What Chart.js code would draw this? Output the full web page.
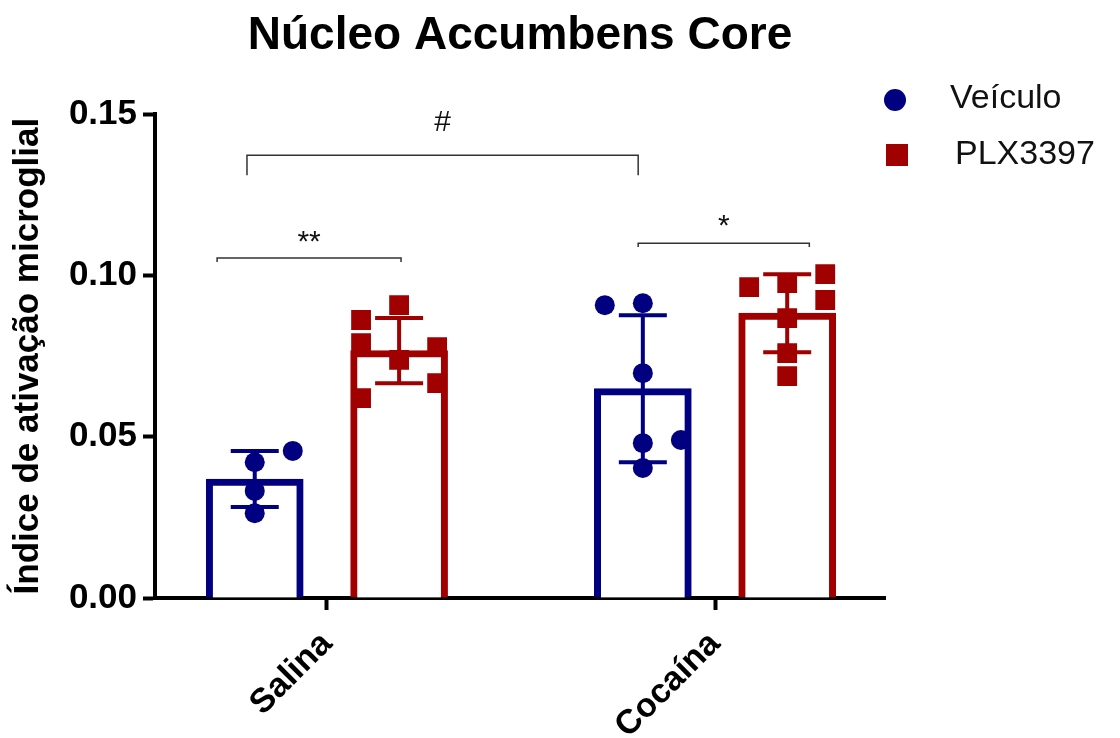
<!DOCTYPE html>
<html>
<head>
<meta charset="utf-8">
<script src="https://cdn.jsdelivr.net/npm/chart.js@4"></script>
<style>
  html, body { margin: 0; padding: 0; background: #fff; }
  canvas { display: block; }
</style>
</head>
<body>
<canvas id="chart" width="1120" height="738"></canvas>
<script>
(function () {
  const categories = ['Salina', 'Cocaína'];
  const seriesNames = ['Veículo', 'PLX3397'];
  const yTicks = [0, 0.05, 0.10, 0.15];

  // bar heights (mean) and SD, one entry per category
  const veiculoMean = [0.0369, 0.0649];
  const veiculoSD   = [0.0087, 0.0228];
  const plxMean     = [0.0767, 0.0883];
  const plxSD       = [0.0101, 0.0121];

  // individual animals, value + scatter column (-1 left, 0 middle, 1 right)
  const veiculoSalina    = [0.0421, 0.0456, 0.0332, 0.0263];
  const veiculoSalinaCol = [0, 1, 0, 0];
  const veiculoCocaina    = [0.0908, 0.0914, 0.0697, 0.0480, 0.0490, 0.0403];
  const veiculoCocainaCol = [-1, 0, 0, 0, 1, 0];
  const plxSalina    = [0.0862, 0.0908, 0.0790, 0.0778, 0.0738, 0.0666, 0.0620];
  const plxSalinaCol = [-1, 0, -1, 1, 0, 1, -1];
  const plxCocaina    = [0.0964, 0.0976, 0.1004, 0.0924, 0.0868, 0.0759, 0.0688];
  const plxCocainaCol = [-1, 0, 1, 1, 0, 0, 0];

  // significance brackets: x in axis units, y in data units
  const brackets = [
    { x1: 0.717, x2: 1.191, y: 0.1054, drop: 0.0012, label: '**', labelGap: 0.0047 },
    { x1: 0.794, x2: 1.802, y: 0.1373, drop: 0.0062, label: '#',  labelGap: 0.0102 },
    { x1: 1.802, x2: 2.243, y: 0.1100, drop: 0.0012, label: '*',  labelGap: 0.0050 },
  ];

  const NAVY = '#000080';
  const RED = '#a00000';
  const FONT = '"Liberation Sans", Arial, sans-serif';
  const barShift = 0.186;   // half distance between the two bars of a group
  const jitter = 0.098;     // scatter column spacing

  function barData(means, sign) {
    return means.map((m, i) => ({ x: i + 1 + sign * barShift, y: m }));
  }
  function pointData(vals, cols, group, sign) {
    return vals.map((v, i) => ({ x: group + 1 + sign * barShift + cols[i] * jitter, y: v }));
  }

  const errorBars = {
    id: 'errorBars',
    afterDatasetDraw(chart, args) {
      const ds = chart.data.datasets[args.index];
      if (!ds.sd) return;
      const { ctx, scales: { x, y } } = chart;
      ctx.save();
      ctx.strokeStyle = ds.borderColor;
      ctx.lineWidth = 4;
      ds.data.forEach((p, i) => {
        const px = x.getPixelForValue(p.x);
        const top = y.getPixelForValue(p.y + ds.sd[i]);
        const bot = y.getPixelForValue(p.y - ds.sd[i]);
        ctx.beginPath();
        ctx.moveTo(px, top); ctx.lineTo(px, bot);
        ctx.moveTo(px - 24, top); ctx.lineTo(px + 24, top);
        ctx.moveTo(px - 24, bot); ctx.lineTo(px + 24, bot);
        ctx.stroke();
      });
      ctx.restore();
    }
  };

  const extras = {
    id: 'extras',
    afterDraw(chart) {
      const { ctx, scales: { x, y } } = chart;
      ctx.save();
      // brackets
      ctx.strokeStyle = '#333';
      ctx.lineWidth = 1.5;
      ctx.fillStyle = '#111';
      ctx.font = '30px ' + FONT;
      ctx.textAlign = 'center';
      ctx.textBaseline = 'middle';
      brackets.forEach(b => {
        const x1 = x.getPixelForValue(b.x1), x2 = x.getPixelForValue(b.x2);
        const yy = y.getPixelForValue(b.y), yd = y.getPixelForValue(b.y - b.drop);
        ctx.beginPath();
        ctx.moveTo(x1, yd); ctx.lineTo(x1, yy); ctx.lineTo(x2, yy); ctx.lineTo(x2, yd);
        ctx.stroke();
        ctx.fillText(b.label, (x1 + x2) / 2, y.getPixelForValue(b.y + b.labelGap));
      });
      // legend
      ctx.textAlign = 'left';
      ctx.font = '34px ' + FONT;
      ctx.fillStyle = NAVY;
      ctx.beginPath(); ctx.arc(895, 100, 11, 0, Math.PI * 2); ctx.fill();
      ctx.fillStyle = RED;
      ctx.fillRect(886, 144, 22, 22);
      ctx.fillStyle = '#111';
      ctx.fillText(seriesNames[0], 950, 99);
      ctx.fillText(seriesNames[1], 955, 155);
      ctx.restore();
    }
  };

  const ctx = document.getElementById('chart').getContext('2d');
  new Chart(ctx, {
    type: 'bar',
    data: {
      datasets: [
        { type: 'scatter', label: seriesNames[0], order: 0, pointStyle: 'circle', pointRadius: 10,
          backgroundColor: NAVY, borderWidth: 0,
          data: pointData(veiculoSalina, veiculoSalinaCol, 0, -1).concat(pointData(veiculoCocaina, veiculoCocainaCol, 1, -1)) },
        { type: 'scatter', label: seriesNames[1], order: 0, pointStyle: 'rect', pointRadius: 14,
          backgroundColor: RED, borderWidth: 0,
          data: pointData(plxSalina, plxSalinaCol, 0, 1).concat(pointData(plxCocaina, plxCocainaCol, 1, 1)) },
        { label: seriesNames[0], order: 1, grouped: false, barThickness: 97,
          backgroundColor: '#fff', borderColor: NAVY, borderWidth: 7,
          data: barData(veiculoMean, -1), sd: veiculoSD },
        { label: seriesNames[1], order: 1, grouped: false, barThickness: 97,
          backgroundColor: '#fff', borderColor: RED, borderWidth: 7,
          data: barData(plxMean, 1), sd: plxSD },
      ]
    },
    options: {
      responsive: false,
      animation: false,
      events: [],
      layout: { padding: { left: 0, right: 235, top: 0, bottom: 0 } },
      plugins: {
        legend: { display: false },
        tooltip: { enabled: false },
        title: {
          display: true, fullSize: false,
          text: 'Núcleo Accumbens Core',
          color: '#000',
          font: { family: FONT, size: 46, weight: 'bold' },
          padding: { top: 9, bottom: 50 }
        }
      },
      scales: {
        x: {
          type: 'linear', min: 0.557, max: 2.438, offset: false,
          afterFit: s => { s.height = 140; },
          afterBuildTicks: s => { s.ticks = categories.map((c, i) => ({ value: i + 1 })); },
          grid: { offset: false, drawOnChartArea: false, drawTicks: true, tickLength: 12, tickWidth: 4, tickColor: '#000' },
          border: { display: true, width: 4, color: '#000' },
          ticks: {
            autoSkip: false, minRotation: 45, maxRotation: 45, padding: 14,
            color: '#000', font: { family: FONT, size: 34, weight: 'bold' },
            callback: v => categories[Math.round(v) - 1]
          }
        },
        y: {
          min: 0, max: 0.15,
          afterFit: s => { s.width = 155; },
          afterBuildTicks: s => { s.ticks = yTicks.map(v => ({ value: v })); },
          grid: { drawOnChartArea: false, drawTicks: true, tickLength: 12, tickWidth: 4, tickColor: '#000' },
          border: { display: true, width: 4, color: '#000' },
          ticks: {
            padding: 6, color: '#000',
            font: { family: FONT, size: 35, weight: 'bold' },
            callback: v => v.toFixed(2)
          },
          title: {
            display: true, text: 'Índice de ativação microglial', color: '#000',
            font: { family: FONT, size: 35, weight: 'bold' },
            padding: { top: 7, bottom: 0 }
          }
        }
      }
    },
    plugins: [errorBars, extras]
  });
})();
</script>
</body>
</html>
